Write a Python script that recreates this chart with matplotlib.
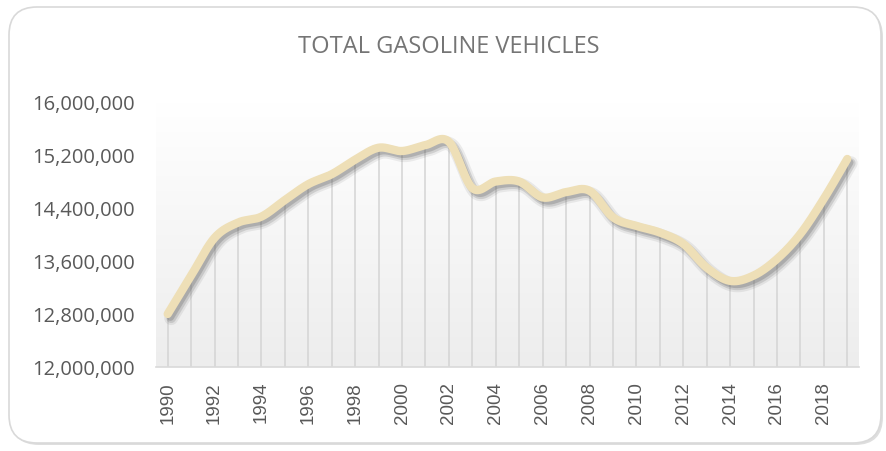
import numpy as np
import matplotlib.pyplot as plt
import matplotlib.patheffects as pe
from matplotlib.patches import FancyBboxPatch
from matplotlib.colors import LinearSegmentedColormap
from matplotlib.ticker import FuncFormatter

# Данные
years = list(range(1990, 2020))
vehicles = [12800000, 13380000, 13950000, 14180000, 14270000, 14520000,
            14760000, 14910000, 15130000, 15310000, 15260000, 15350000,
            15400000, 14700000, 14800000, 14800000, 14560000, 14640000,
            14660000, 14260000, 14130000, 14030000, 13860000, 13500000,
            13300000, 13380000, 13630000, 14010000, 14540000, 15140000]
yticks = [12000000, 12800000, 13600000, 14400000, 15200000, 16000000]
xlabels = [str(y) if (y - 1990) % 2 == 0 else '' for y in years]
title = 'TOTAL GASOLINE VEHICLES'


# Сглаживание линии как в Excel (кривые Безье через точки)
def smooth_line(xs, ys, n=30, t=1 / 6):
    xs = np.asarray(xs, float)
    ys = np.asarray(ys, float)
    px, py = [], []
    for i in range(len(xs) - 1):
        i0 = max(i - 1, 0)
        i3 = min(i + 2, len(xs) - 1)
        c1x = xs[i] + (xs[i + 1] - xs[i0]) * t
        c1y = ys[i] + (ys[i + 1] - ys[i0]) * t
        c2x = xs[i + 1] - (xs[i3] - xs[i]) * t
        c2y = ys[i + 1] - (ys[i3] - ys[i]) * t
        s = np.linspace(0, 1, n, endpoint=False)
        px.append((1 - s) ** 3 * xs[i] + 3 * (1 - s) ** 2 * s * c1x
                  + 3 * (1 - s) * s ** 2 * c2x + s ** 3 * xs[i + 1])
        py.append((1 - s) ** 3 * ys[i] + 3 * (1 - s) ** 2 * s * c1y
                  + 3 * (1 - s) * s ** 2 * c2y + s ** 3 * ys[i + 1])
    px.append([xs[-1]])
    py.append([ys[-1]])
    return np.concatenate(px), np.concatenate(py)


fig = plt.figure(figsize=(8.86, 4.52), dpi=100)

# Рамка диаграммы с тенью
shadow = FancyBboxPatch((11, 6), 872, 436, boxstyle='round,pad=0,rounding_size=28',
                        transform=None, facecolor='#c8c8c8', edgecolor='none',
                        alpha=0.6, zorder=-2)
frame = FancyBboxPatch((9, 8), 872, 436, boxstyle='round,pad=0,rounding_size=28',
                       transform=None, facecolor='white', edgecolor='#d9d9d9',
                       linewidth=1.2, zorder=-1)
fig.patches.extend([shadow, frame])

ax = fig.add_axes([156 / 886, 84 / 452, 703 / 886, 265 / 452])
ax.set_facecolor('none')

x = np.arange(len(years))
ax.set_xlim(-0.5, len(years) - 0.5)
ax.set_ylim(yticks[0], yticks[-1])

# Градиентный фон области построения
grad = np.linspace(1, 0, 256).reshape(-1, 1)
bg = LinearSegmentedColormap.from_list('bg', ['#ffffff', '#ededed'])
ax.imshow(grad, extent=(-0.5, len(years) - 0.5, yticks[0], yticks[-1]),
          aspect='auto', cmap=bg, vmin=0, vmax=1, origin='lower', zorder=0)

# Линии проекции
ax.vlines(x, yticks[0], vehicles, color='#d4d4d4', linewidth=1.1, zorder=1)

sx, sy = smooth_line(x, vehicles)
ax.plot(sx, sy, color='#eedfb7', linewidth=6, solid_capstyle='round', zorder=3,
        path_effects=[pe.SimpleLineShadow(offset=(2.5, -3), shadow_color='#555555', alpha=0.10, linewidth=10),
                      pe.SimpleLineShadow(offset=(2.5, -3), shadow_color='#555555', alpha=0.18, linewidth=7),
                      pe.SimpleLineShadow(offset=(2, -2.5), shadow_color='#555555', alpha=0.25, linewidth=5),
                      pe.Normal()])

for s in ['top', 'left', 'right']:
    ax.spines[s].set_visible(False)
ax.spines['bottom'].set_color('#d9d9d9')
ax.spines['bottom'].set_linewidth(1.2)

ax.set_yticks(yticks)
ax.yaxis.set_major_formatter(FuncFormatter(lambda v, p: f'{int(v):,}'))
ax.set_xticks(x)
ax.set_xticklabels(xlabels, rotation=90, fontsize=13.5, color='#595959',
                   family='Liberation Sans')
ax.tick_params(axis='x', length=0, pad=10)
ax.tick_params(axis='y', length=0, pad=15, labelsize=14.5, labelcolor='#595959')
for lbl in ax.get_yticklabels():
    lbl.set_family('Open Sans')

fig.text(449 / 886, 1 - 47 / 452, title, ha='center', va='center',
         fontsize=17, color='#757575', family='Open Sans')

fig.savefig('out.png', dpi=100)
